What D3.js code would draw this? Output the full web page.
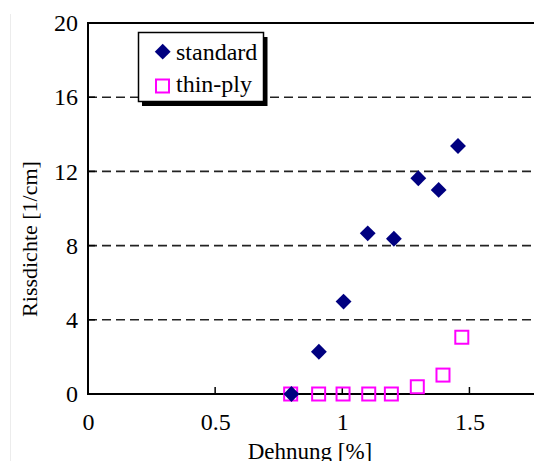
<!DOCTYPE html>
<html>
<head>
<meta charset="utf-8">
<script src="https://cdn.jsdelivr.net/npm/d3@7"></script>
<style>
  html, body { margin: 0; padding: 0; background: #fff; }
  svg { display: block; }
  svg text { font-family: "Liberation Serif", "Times New Roman", Times, serif; fill: #000; }
</style>
</head>
<body>
<svg id="chart" width="534" height="461"></svg>
<script>
// Crack density vs. strain for standard and thin-ply laminates
const standardStrain = [0.80, 0.908, 1.005, 1.10, 1.203, 1.299, 1.379, 1.455];
const standardDensity = [0.0, 2.28, 4.98, 8.66, 8.37, 11.63, 11.0, 13.37];
const thinPlyStrain = [0.797, 0.907, 1.003, 1.104, 1.193, 1.295, 1.396, 1.47];
const thinPlyDensity = [0.0, 0.0, 0.0, 0.0, 0.0, 0.39, 1.02, 3.06];
const xTicks = [0, 0.5, 1, 1.5];
const xTickLabels = ["0", "0.5", "1", "1.5"];
const yTicks = [0, 4, 8, 12, 16, 20];
const gridValues = [4, 8, 12, 16];
const seriesNames = ["standard", "thin-ply"];

const svg = d3.select("#chart");
const plotLeft = 88, plotRight = 533, plotTop = 23, plotBottom = 394;

const x = d3.scaleLinear().domain([0, 1.75]).range([plotLeft, plotRight]);
const y = d3.scaleLinear().domain([0, 20]).range([plotBottom, plotTop]);

// faint scan edge on the far left
svg.append("line").attr("x1", 10.5).attr("x2", 10.5).attr("y1", 14).attr("y2", 461)
  .attr("stroke", "#ececec").attr("stroke-width", 1);

// dashed horizontal grid
svg.append("g").selectAll("line").data(gridValues).join("line")
  .attr("x1", plotLeft).attr("x2", plotRight)
  .attr("y1", d => y(d)).attr("y2", d => y(d))
  .attr("stroke", "#222").attr("stroke-width", 1.6)
  .attr("stroke-dasharray", "9,5");

// top frame line
svg.append("line").attr("x1", plotLeft).attr("x2", plotRight + 1)
  .attr("y1", y(20)).attr("y2", y(20))
  .attr("stroke", "#000").attr("stroke-width", 2);

// x axis
const xAxis = d3.axisBottom(x).tickValues(xTicks)
  .tickFormat((d, i) => xTickLabels[i]).tickSize(0).tickPadding(19);
const gx = svg.append("g").attr("transform", `translate(0,${plotBottom})`).call(xAxis);
gx.select(".domain").remove();
gx.selectAll("text").attr("font-size", 24);
svg.append("line").attr("x1", plotLeft - 1).attr("x2", plotRight + 1)
  .attr("y1", plotBottom).attr("y2", plotBottom)
  .attr("stroke", "#000").attr("stroke-width", 2);
svg.append("g").selectAll("line").data(xTicks.filter(d => d > 0)).join("line")
  .attr("x1", d => x(d)).attr("x2", d => x(d))
  .attr("y1", plotBottom).attr("y2", plotBottom - 7)
  .attr("stroke", "#000").attr("stroke-width", 1.5);

// y axis
const yAxis = d3.axisLeft(y).tickValues(yTicks).tickSize(0).tickPadding(10);
const gy = svg.append("g").attr("transform", `translate(${plotLeft},0)`).call(yAxis);
gy.select(".domain").remove();
gy.selectAll("text").attr("font-size", 24);
svg.append("g").selectAll("line").data(yTicks.filter(d => d > 0 && d < 20)).join("line")
  .attr("x1", plotLeft).attr("x2", plotLeft + 7)
  .attr("y1", d => y(d)).attr("y2", d => y(d))
  .attr("stroke", "#000").attr("stroke-width", 1.5);
svg.append("line").attr("x1", plotLeft).attr("x2", plotLeft)
  .attr("y1", plotTop - 1).attr("y2", plotBottom + 1)
  .attr("stroke", "#000").attr("stroke-width", 2);

// axis titles
svg.append("text").attr("x", 310).attr("y", 459).attr("text-anchor", "middle")
  .attr("font-size", 23).text("Dehnung [%]");
svg.append("text").attr("transform", "translate(37,239) rotate(-90)")
  .attr("text-anchor", "middle").attr("font-size", 22).text("Rissdichte [1/cm]");

// markers
const diamond = d3.symbol().type(d3.symbolDiamond2).size(160);
const navy = "#000080", magenta = "#ff00ff";
const sqSize = 13;

const thinData = thinPlyStrain.map((s, i) => ({ s, v: thinPlyDensity[i] }));
const stdData = standardStrain.map((s, i) => ({ s, v: standardDensity[i] }));

svg.append("g").selectAll("rect").data(thinData).join("rect")
  .attr("x", d => x(d.s) - sqSize / 2).attr("y", d => y(d.v) - sqSize / 2)
  .attr("width", sqSize).attr("height", sqSize)
  .attr("fill", "none").attr("stroke", magenta).attr("stroke-width", 2);

svg.append("g").selectAll("path").data(stdData).join("path")
  .attr("d", diamond)
  .attr("transform", d => `translate(${x(d.s)},${y(d.v)})`)
  .attr("fill", navy);

// legend
const lg = svg.append("g");
lg.append("rect").attr("x", 142).attr("y", 37).attr("width", 125.5).attr("height", 69).attr("fill", "#000");
lg.append("rect").attr("x", 138.5).attr("y", 32.5).attr("width", 125).attr("height", 69)
  .attr("fill", "#fff").attr("stroke", "#000").attr("stroke-width", 1.5);
lg.append("path").attr("d", diamond).attr("transform", "translate(162.7,51.7)").attr("fill", navy);
lg.append("rect").attr("x", 156).attr("y", 79.5).attr("width", sqSize).attr("height", sqSize)
  .attr("fill", "none").attr("stroke", magenta).attr("stroke-width", 2);
lg.selectAll("text.lbl").data(seriesNames).join("text").attr("class", "lbl")
  .attr("x", 176).attr("y", (d, i) => 60 + i * 32)
  .attr("font-size", 24).text(d => d);
</script>
</body>
</html>
